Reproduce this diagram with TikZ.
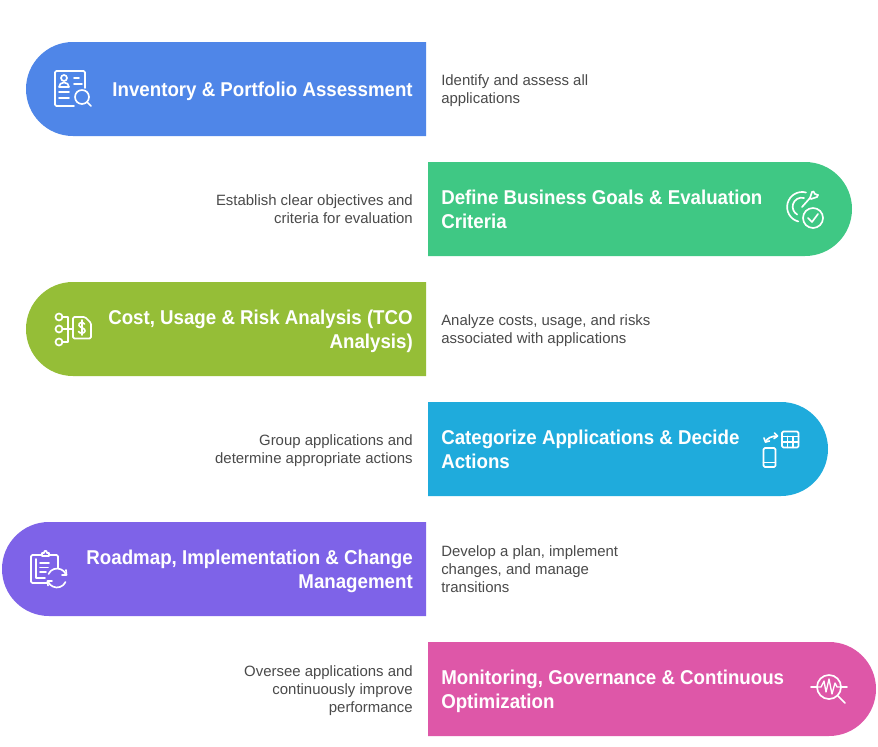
\documentclass[tikz,border=0pt]{standalone}
\usepackage{fontspec}
\setmainfont{Liberation Sans}
\newfontfamily\titlefont[FakeStretch=0.935]{Liberation Sans}
\usepackage{xcolor}
\definecolor{barblue}{HTML}{4F86E8}
\definecolor{bargreen}{HTML}{3FC884}
\definecolor{barolive}{HTML}{95BE37}
\definecolor{barcyan}{HTML}{1FABDC}
\definecolor{barpurple}{HTML}{7E63E8}
\definecolor{barpink}{HTML}{DE57A8}
\definecolor{desctext}{HTML}{4A4A4A}
\tikzset{
  title/.style={text=white,font=\titlefont\bfseries\fontsize{15}{18}\selectfont,inner sep=0pt,
    execute at begin node=\strut,execute at end node=\strut},
  titleleft/.style={title,anchor=east,align=right},
  titleright/.style={title,anchor=west,align=left},
  desc/.style={text=desctext,font=\fontsize{11.2}{13.5}\selectfont,inner sep=0pt,
    execute at begin node=\strut,execute at end node=\strut},
  descleft/.style={desc,anchor=east,align=right},
  descright/.style={desc,anchor=west,align=left},
  icon/.style={draw=white,line width=1.25pt,line cap=round,line join=round}
}
\begin{document}
\begin{tikzpicture}[x=0.75pt,y=-0.75pt]
  \useasboundingbox[fill=white] (0,0) rectangle (878,746);
  % Define bar radius
  \def\r{47}
  % Bars rounded on the left: colour, left end, top
  \foreach \c/\x/\y in {barblue/26/42,barolive/26/282,barpurple/2/522} {
    \fill[\c] (426,\y) -- (\x+\r,\y) arc[start angle=270,end angle=90,radius=\r] -- (426,\y+94) -- cycle;
  }
  % Bars rounded on the right: colour, right end, top
  \foreach \c/\x/\y in {bargreen/852/162,barcyan/828/402,barpink/876/642} {
    \fill[\c] (428,\y) -- (\x-\r,\y) arc[start angle=-90,end angle=90,radius=\r] -- (428,\y+94) -- cycle;
  }
  % Titles
  \node[titleleft] (inventory) at (413,92) {Inventory \& Portfolio Assessment};
  \node[titleright] (goals) at (441,213) {Define Business Goals \& Evaluation\\Criteria};
  \node[titleleft] (cost) at (413,333) {Cost, Usage \& Risk Analysis (TCO\\Analysis)};
  \node[titleright] (categorize) at (441,453) {Categorize Applications \& Decide\\Actions};
  \node[titleleft] (roadmap) at (413,573) {Roadmap, Implementation \& Change\\Management};
  \node[titleright] (monitoring) at (441,693) {Monitoring, Governance \& Continuous\\Optimization};
  % Descriptions
  \node[descright] (inventorytext) at (441,91.5) {Identify and assess all\\applications};
  \node[descleft] (goalstext) at (413,211.5) {Establish clear objectives and\\criteria for evaluation};
  \node[descright] (costtext) at (441,331.5) {Analyze costs, usage, and risks\\associated with applications};
  \node[descleft] (categorizetext) at (413,451.5) {Group applications and\\determine appropriate actions};
  \node[descright] (roadmaptext) at (441,571.5) {Develop a plan, implement\\changes, and manage\\transitions};
  \node[descleft] (monitoringtext) at (413,691.5) {Oversee applications and\\continuously improve\\performance};
  % Icon: sheet and lens
  \draw[icon,rounded corners=1pt] (85,88) -- (85,71) -- (55,71) -- (55,106) -- (74,106);
  \draw[icon] (64,78) circle(3);
  \draw[icon] (59,87) .. controls (59,81) and (69,81) .. (69,87) -- cycle;
  \draw[icon] (74,78) -- (79,78) (74,84) -- (82,84) (59,92) -- (69,92) (59,98) -- (69,98);
  \draw[icon] (82,97) circle(7) (87,102) -- (91,106);
  % Icon: target and check
  \draw[icon] (806,192.5) arc[start angle=-75,end angle=-255,radius=15];
  \draw[icon] (804,198) arc[start angle=-75,end angle=-240,radius=9];
  \draw[icon] (802,207) -- (810,198);
  \draw[icon] (810,198) -- (812,192) -- (813.5,191.5) -- (815,194) -- (818,195) -- (817,197) -- (811,199) -- cycle;
  \draw[icon] (813,218) circle(10);
  \draw[icon] (808,218) -- (812,222) -- (818,214);
  % Icon: branches and bill
  \foreach \y in {317,329,342} {
    \draw[icon] (59,\y) circle(3.5);
  }
  \draw[icon] (62.5,329) -- (73,329) (62,317) -- (68,317) -- (68,342) -- (62,342);
  \draw[icon,rounded corners=1pt] (73,317) -- (85,317) -- (91,323) -- (91,338.5) -- (73,338.5) -- cycle;
  \draw[icon] (84.5,324) .. controls (83,321.5) and (78,322.5) .. (79,325.5) .. controls (80,328) and (85.5,328) .. (85,331) .. controls (84.5,334) and (79.5,333.5) .. (78.5,331.5) (82,320) -- (82,335);
  % Icon: phone and table
  \draw[icon,rounded corners=1pt] (782,431.5) rectangle (798.5,447.5);
  \draw[icon] (782,436.5) -- (798.5,436.5) (782,442) -- (798.5,442) (787.5,436.5) -- (787.5,447.5) (793,436.5) -- (793,447.5);
  \draw[icon,rounded corners=1pt] (763.5,448) rectangle (775.5,467);
  \draw[icon] (763.5,462.5) -- (775.5,462.5);
  \draw[icon] (765.5,442) .. controls (767,438) and (772,436) .. (777,436);
  \draw[icon] (764,438) -- (765.5,442) -- (769.5,441) (774.5,433) -- (777.5,436) -- (774,438.5);
  % Icon: clipboard and refresh
  \draw[icon,rounded corners=1pt] (42,555) -- (31,555) -- (31,583) -- (47,583);
  \draw[icon,rounded corners=1pt] (49,555) -- (58,555) -- (58,568);
  \draw[icon] (36,559) -- (36,578) -- (45,578);
  \draw[icon] (42,556) -- (42,553) -- (44,553) .. controls (44,550) and (47,550) .. (47,553) -- (49,553) -- (49,556) -- cycle;
  \draw[icon] (40,563) -- (49,563) (40,567.5) -- (48,567.5) (40,572) -- (46,572);
  \draw[icon] (48.5,574) arc[start angle=-155,end angle=-25,radius=9.5];
  \draw[icon] (65.5,582) arc[start angle=25,end angle=155,radius=9.5];
  \draw[icon] (66,570) -- (66.5,575) -- (62,575) (48,585.5) -- (47.5,581) -- (52,581);
  % Icon: lens and pulse
  \draw[icon] (829,687) circle(12);
  \draw[icon] (811,687) -- (817,687) (841,687) -- (847,687) (838,696) -- (845,703);
  \draw[icon,line width=1pt] (817,687) -- (821,687) -- (824,681) -- (826,692) -- (829,679) -- (832,694) -- (835,683) -- (837,687) -- (841,687);
\end{tikzpicture}
\end{document}
